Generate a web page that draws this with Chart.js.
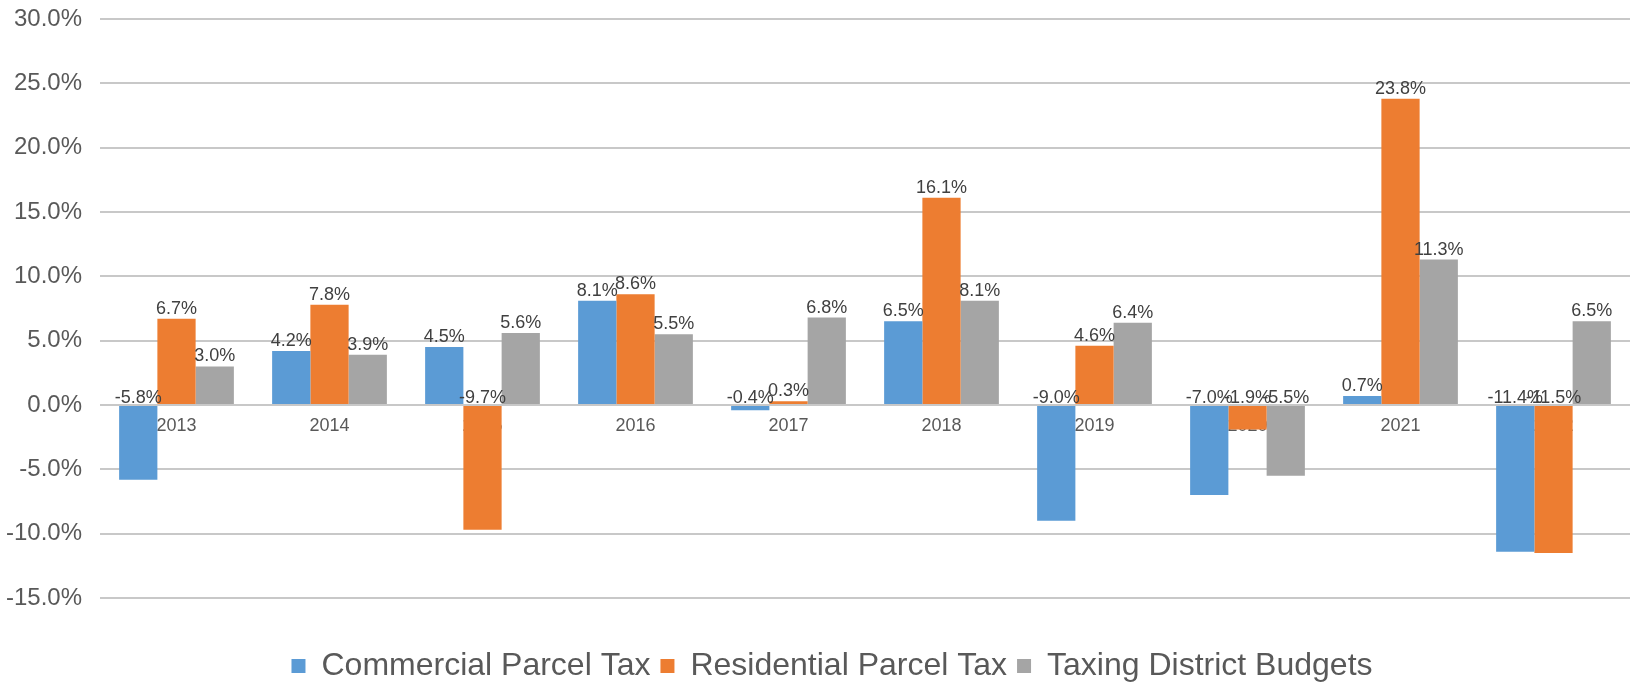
<!DOCTYPE html>
<html>
<head>
<meta charset="utf-8">
<script src="https://cdn.jsdelivr.net/npm/chart.js@4/dist/chart.umd.min.js"></script>
<style>
  html, body { margin: 0; padding: 0; background: #ffffff; }
  #wrap { width: 1638px; height: 686px; }
</style>
</head>
<body>
<div id="wrap"><canvas id="c" width="1638" height="686"></canvas></div>
<script>
const categories = ['2013', '2014', '2015', '2016', '2017', '2018', '2019', '2020', '2021', '2022'];
const commercialParcelTax = [-5.8, 4.2, 4.5, 8.1, -0.4, 6.5, -9.0, -7.0, 0.7, -11.4];
const residentialParcelTax = [6.7, 7.8, -9.7, 8.6, 0.3, 16.1, 4.6, -1.9, 23.8, -11.5];
const taxingDistrictBudgets = [3.0, 3.9, 5.6, 5.5, 6.8, 8.1, 6.4, -5.5, 11.3, 6.5];
const seriesNames = ['Commercial Parcel Tax', 'Residential Parcel Tax', 'Taxing District Budgets'];
const yTickMin = -15, yTickMax = 30, yTickStep = 5;

const FONT = '"Liberation Sans", Arial, sans-serif';

const dataLabelPlugin = {
  id: 'dataLabels',
  afterDatasetsDraw(chart) {
    const ctx = chart.ctx;
    const yScale = chart.scales.y;
    const zero = yScale.getPixelForValue(0);
    ctx.save();
    ctx.font = '18px ' + FONT;
    ctx.fillStyle = '#404040';
    ctx.textAlign = 'center';
    ctx.textBaseline = 'alphabetic';
    chart.data.datasets.forEach((ds, di) => {
      const meta = chart.getDatasetMeta(di);
      meta.data.forEach((bar, i) => {
        const v = ds.data[i];
        const y = v >= 0 ? bar.y - 5 : zero - 2;
        ctx.fillText(v.toFixed(1) + '%', bar.x, y);
      });
    });
    ctx.restore();
  }
};

const legendShiftPlugin = {
  id: 'legendShift',
  afterLayout(chart) {
    const l = chart.legend;
    if (l) { l.left += 17; l.right += 17; }
  }
};

new Chart(document.getElementById('c'), {
  type: 'bar',
  data: {
    labels: categories,
    datasets: [
      { label: seriesNames[0], data: commercialParcelTax, backgroundColor: '#5b9bd5' },
      { label: seriesNames[1], data: residentialParcelTax, backgroundColor: '#ed7d31' },
      { label: seriesNames[2], data: taxingDistrictBudgets, backgroundColor: '#a5a5a5' }
    ]
  },
  options: {
    responsive: false,
    animation: false,
    devicePixelRatio: 1,
    layout: { padding: { top: 19, right: 8, bottom: -6, left: 0 } },
    datasets: { bar: { categoryPercentage: 0.75, barPercentage: 1.0 } },
    scales: {
      x: {
        type: 'category',
        position: { y: 0 },
        grid: { display: false, drawTicks: false },
        border: { display: false },
        ticks: {
          color: '#595959',
          font: { family: FONT, size: 18 },
          padding: 10,
          maxRotation: 0,
          autoSkip: false
        }
      },
      x2: {
        type: 'category',
        position: 'bottom',
        display: true,
        grid: { display: false, drawTicks: false },
        border: { display: false },
        ticks: { display: false },
        afterFit(s) { s.height = 42; }
      },
      y: {
        min: yTickMin,
        max: yTickMax,
        border: { display: false },
        grid: { color: '#c8c8c8', lineWidth: 2, drawTicks: true, tickLength: 18, tickColor: 'rgba(0,0,0,0)' },
        ticks: {
          stepSize: yTickStep,
          color: '#595959',
          font: { family: FONT, size: 24 },
          padding: 0,
          callback: v => v.toFixed(1) + '%'
        },
        afterFit(s) { s.width = 100; }
      }
    },
    plugins: {
      legend: {
        position: 'bottom',
        labels: {
          boxWidth: 14,
          boxHeight: 14,
          padding: 10,
          color: '#595959',
          font: { family: FONT, size: 32 }
        }
      },
      tooltip: { enabled: false }
    }
  },
  plugins: [dataLabelPlugin, legendShiftPlugin]
});
</script>
</body>
</html>
